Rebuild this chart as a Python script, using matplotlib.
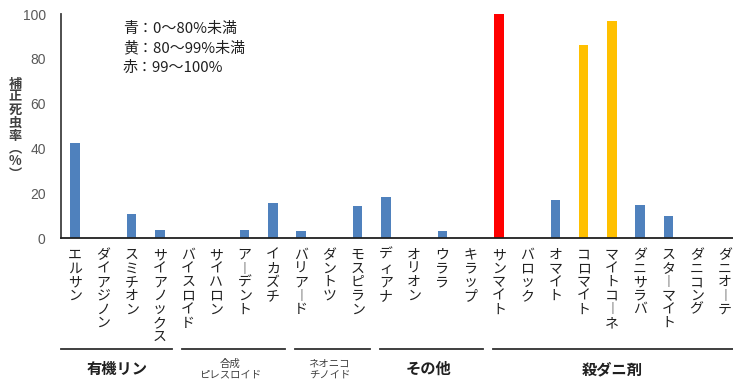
import matplotlib.pyplot as plt

plt.rcParams['font.family'] = ['Noto Sans CJK JP', 'DejaVu Sans']

# data
names = ['エルサン', 'ダイアジノン', 'スミチオン', 'サイアノックス',
         'バイスロイド', 'サイハロン', 'アーデント', 'イカズチ',
         'バリアード', 'ダントツ', 'モスピラン',
         'ディアナ', 'オリオン', 'ウララ', 'キラップ',
         'サンマイト', 'バロック', 'オマイト', 'コロマイト', 'マイトコーネ',
         'ダニサラバ', 'スターマイト', 'ダニコング', 'ダニオーテ']
values = [42.5, 0, 10.5, 3.6,
          0, 0, 3.6, 15.7,
          3.2, 0, 14.5,
          18.5, 0, 3.2, 0,
          100, 0, 17.0, 86.0, 96.8,
          14.8, 9.9, 0, 0]
groups = ['有機リン', '合成\nピレスロイド', 'ネオニコ\nチノイド', 'その他', '殺ダニ剤']
group_sizes = [4, 4, 3, 4, 9]
legend_lines = ['青：0～80%未満', '黄：80～99%未満', '赤：99～100%']
ylabel = '補正死虫率（%）'

# glyphs used when the text is written top to bottom
vertical_forms = {'ー': '︱', '（': '︵', '）': '︶'}


def bar_color(v):
    if v >= 99:
        return '#ff0000'
    if v >= 80:
        return '#ffc000'
    return '#4f81bd'


fig = plt.figure(figsize=(7.33, 3.81), dpi=100)
ax = fig.add_axes([61 / 733, 143 / 381, 678 / 733, 224 / 381])

x = list(range(len(names)))
ax.bar(x, values, width=0.33, color=[bar_color(v) for v in values])

ax.set_xlim(-0.5, len(names) - 0.5)
ax.set_ylim(0, 100)
ax.set_yticks([0, 20, 40, 60, 80, 100])
ax.set_xticks([])
ax.tick_params(axis='y', length=0, pad=11, labelcolor='#595959')
for lab in ax.get_yticklabels():
    lab.set_family('Liberation Sans')
    lab.set_fontsize(10)
ax.spines['top'].set_visible(False)
ax.spines['right'].set_visible(False)
ax.spines['left'].set_color('#404040')
ax.spines['bottom'].set_color('#202020')
ax.spines['left'].set_linewidth(1.3)
ax.spines['bottom'].set_linewidth(1.3)

# vertical (stacked) category labels
for i, name in enumerate(names):
    for k, ch in enumerate(name):
        ax.annotate(vertical_forms.get(ch, ch), xy=(i, 0),
                    xycoords=('data', 'axes fraction'),
                    xytext=(0, -(17 + k * 13.6)), textcoords='offset pixels',
                    ha='center', va='center', fontsize=10, color='#202020')

# y label, stacked
for k, ch in enumerate(ylabel):
    fig.text(15 / 733, 1 - (84 + k * 12.9) / 381, vertical_forms.get(ch, ch),
             ha='center', va='center', fontsize=9.5, fontweight='bold',
             color='#404040')

# legend text
for k, line in enumerate(legend_lines):
    fig.text(123 / 733, 1 - (29 + k * 19.5) / 381, line, ha='left', va='center',
             fontsize=10.8, color='#202020')

# group lines and labels
trans = ax.get_xaxis_transform()
start = 0
for g, size in zip(groups, group_sizes):
    x0 = start - 0.5 + (0.0 if start == 0 else 0.3)
    x1 = start + size - 0.5 - 0.07
    if start + size == len(names):
        x1 = len(names)
    ax.plot([x0, x1], [-0.4955, -0.4955], transform=trans, clip_on=False,
            color='#303030', lw=1.3)
    cx = start + (size - 1) / 2
    if '\n' in g:
        ax.text(cx, -0.585, g, transform=trans, ha='center', va='center',
                fontsize=7.5, color='#404040', linespacing=1.15)
    else:
        ax.text(cx, -0.585, g, transform=trans, ha='center', va='center',
                fontsize=11, fontweight='bold', color='#202020')
    start += size

fig.savefig('out.png', dpi=100)
